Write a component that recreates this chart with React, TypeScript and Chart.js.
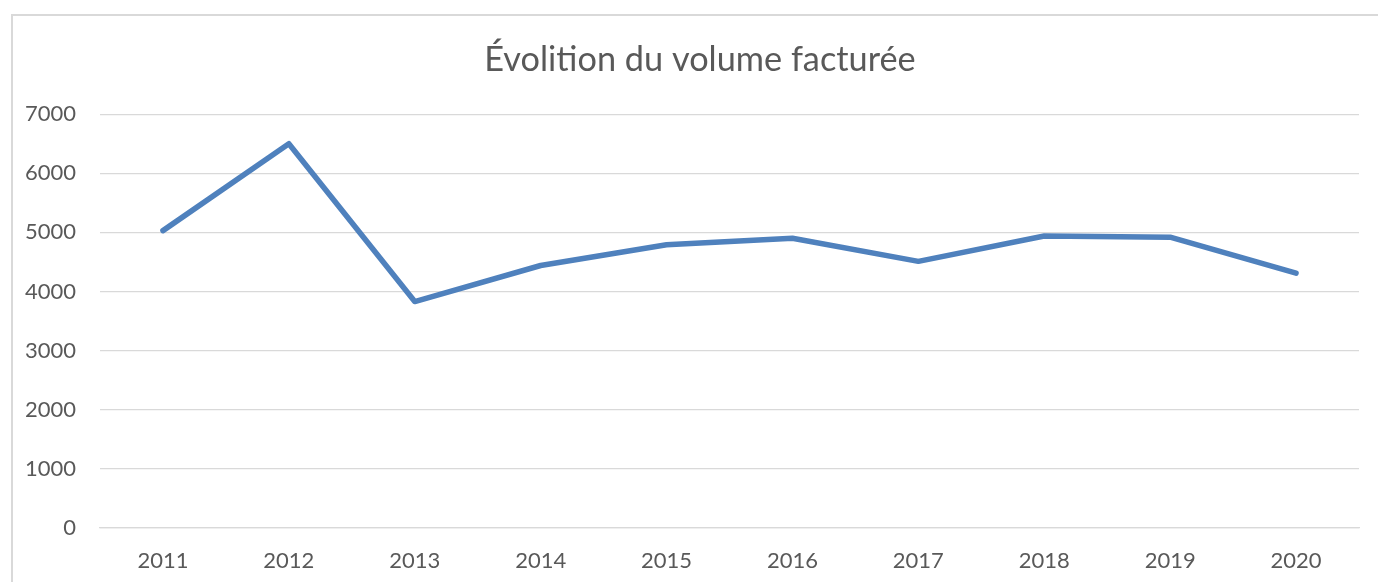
import React, { useEffect, useRef } from "react";
import { Chart, registerables } from "chart.js";

Chart.register(...registerables);

const years = ["2011", "2012", "2013", "2014", "2015", "2016", "2017", "2018", "2019", "2020"];
const volumes = [5030, 6500, 3830, 4440, 4790, 4900, 4510, 4940, 4920, 4310];
const titleText = "Évolition du volume facturée";
const yMin = 0;
const yMax = 7000;
const yStep = 1000;

const titleShift = {
  id: "titleShift",
  afterLayout(chart: any) {
    const t = chart.titleBlock;
    if (t) {
      t.left += 28;
    }
  },
};

export default function App() {
  const ref = useRef<HTMLCanvasElement | null>(null);

  useEffect(() => {
    if (!ref.current) return;
    const chart = new Chart(ref.current, {
      type: "line",
      data: {
        labels: years,
        datasets: [
          {
            label: "Volume",
            data: volumes,
            borderColor: "#4f81bd",
            backgroundColor: "#4f81bd",
            borderWidth: 5.5,
            pointRadius: 0,
            pointHoverRadius: 0,
            tension: 0,
            borderCapStyle: "round",
            borderJoinStyle: "round",
          },
        ],
      },
      plugins: [titleShift],
      options: {
        animation: false,
        responsive: false,
        maintainAspectRatio: false,
        layout: { padding: { left: 0, right: 19, top: 0, bottom: 0 } },
        plugins: {
          legend: { display: false },
          tooltip: { enabled: false },
          title: {
            display: true,
            text: titleText,
            color: "#595959",
            font: { family: "Lato", size: 34.3, weight: "normal" },
            padding: { top: 23, bottom: 34 },
          },
        },
        scales: {
          x: {
            offset: true,
            grid: { display: false, drawTicks: false },
            border: { display: true, color: "#d9d9d9", width: 1.3 },
            ticks: {
              color: "#595959",
              font: { family: "Lato", size: 22 },
              padding: 20,
              maxRotation: 0,
              autoSkip: false,
            },
            afterFit: (s: any) => {
              s.height = 54;
            },
          },
          y: {
            min: yMin,
            max: yMax,
            grid: { color: "#d9d9d9", lineWidth: 1.3, drawTicks: false },
            border: { display: false },
            ticks: {
              stepSize: yStep,
              color: "#595959",
              font: { family: "Lato", size: 22 },
              padding: 24,
              callback: (v: any) => String(v),
            },
            afterFit: (s: any) => {
              s.width = 87;
            },
          },
        },
      },
    });
    return () => chart.destroy();
  }, []);

  return (
    <div
      style={{
        position: "absolute",
        left: 11,
        top: 14,
        width: 1380,
        height: 600,
        border: "2px solid #d9d9d9",
        boxSizing: "border-box",
        background: "#fff",
        overflow: "hidden",
      }}
    >
      <canvas ref={ref} width={1365} height={566} style={{ display: "block" }} />
    </div>
  );
}
